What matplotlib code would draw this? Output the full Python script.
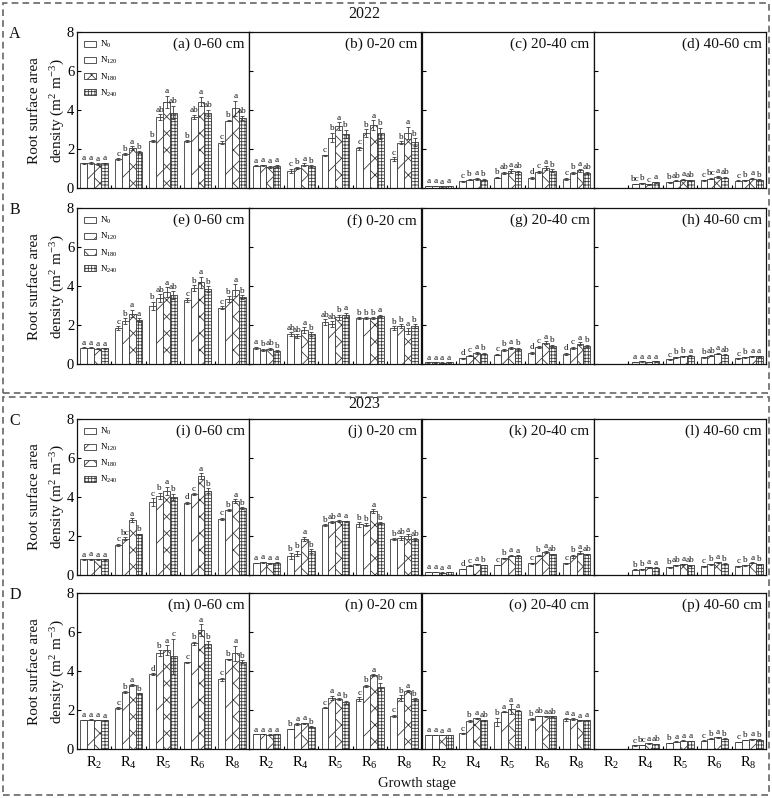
import matplotlib
matplotlib.use("Agg")
import matplotlib.pyplot as plt
from matplotlib.patches import Rectangle, Patch

plt.rcParams["font.family"] = ["Liberation Serif", "DejaVu Serif"]
plt.rcParams["mathtext.fontset"] = "custom"
plt.rcParams["mathtext.rm"] = "Liberation Serif"
plt.rcParams["mathtext.it"] = "Liberation Serif:italic"
plt.rcParams["hatch.linewidth"] = 0.6

STAGES = ["R$_2$", "R$_4$", "R$_5$", "R$_6$", "R$_8$"]
TREATMENTS = ["N$_0$", "N$_{120}$", "N$_{180}$", "N$_{240}$"]
DEPTHS = ["0-60 cm", "0-20 cm", "20-40 cm", "40-60 cm"]
PANEL_LETTERS = "abcdefghijklmnop"
ROW_LETTERS = ["A", "B", "C", "D"]
YEARS = ["2022", "2023"]

# values per panel: rows = growth stage (R2..R8), cols = N0, N120, N180, N240
val_a = [[1.28, 1.30, 1.25, 1.28], [1.49, 1.76, 2.05, 1.85], [2.44, 3.64, 4.44, 3.88],
         [2.42, 3.67, 4.45, 3.88], [2.34, 3.47, 4.10, 3.62]]
err_a = [[0.03, 0.03, 0.05, 0.04], [0.05, 0.05, 0.10, 0.05], [0.06, 0.15, 0.30, 0.35],
         [0.05, 0.10, 0.25, 0.15], [0.08, 0.04, 0.40, 0.10]]
sig_a = [["a", "a", "a", "a"], ["c", "b", "a", "b"], ["b", "ab", "a", "ab"],
         ["b", "ab", "a", "ab"], ["c", "b", "a", "ab"]]

val_b = [[1.15, 1.17, 1.10, 1.15], [0.90, 1.06, 1.20, 1.13], [1.69, 2.60, 3.18, 2.80],
         [2.05, 2.82, 3.25, 2.82], [1.50, 2.34, 2.85, 2.37]]
err_b = [[0.02, 0.03, 0.06, 0.05], [0.10, 0.05, 0.08, 0.04], [0.03, 0.25, 0.20, 0.20],
         [0.08, 0.20, 0.25, 0.28], [0.08, 0.08, 0.30, 0.20]]
sig_b = [["a", "a", "a", "a"], ["c", "b", "a", "b"], ["c", "b", "a", "b"],
         ["c", "b", "a", "b"], ["c", "b", "a", "b"]]

val_c = [[0.12, 0.12, 0.10, 0.12], [0.35, 0.45, 0.50, 0.45], [0.55, 0.80, 0.88, 0.82],
         [0.55, 0.85, 1.03, 0.90], [0.50, 0.80, 0.92, 0.80]]
err_c = [[0.02, 0.02, 0.02, 0.02], [0.03, 0.04, 0.05, 0.04], [0.04, 0.06, 0.10, 0.08],
         [0.05, 0.05, 0.10, 0.08], [0.05, 0.06, 0.08, 0.06]]
sig_c = [["a", "a", "a", "a"], ["c", "b", "a", "b"], ["b", "ab", "a", "ab"],
         ["d", "c", "a", "b"], ["c", "b", "a", "ab"]]

val_d = [None, [0.22, 0.25, 0.20, 0.30], [0.30, 0.38, 0.45, 0.42],
         [0.40, 0.50, 0.60, 0.55], [0.38, 0.42, 0.50, 0.45]]
err_d = [None, [0.02, 0.03, 0.02, 0.03], [0.03, 0.03, 0.04, 0.03],
         [0.03, 0.04, 0.05, 0.04], [0.03, 0.03, 0.04, 0.03]]
sig_d = [None, ["bc", "b", "c", "a"], ["b", "ab", "a", "ab"],
         ["c", "bc", "a", "ab"], ["c", "b", "a", "b"]]

val_e = [[0.85, 0.85, 0.80, 0.82], [1.85, 2.20, 2.60, 2.25], [3.00, 3.40, 3.70, 3.55],
         [3.30, 3.90, 4.20, 3.85], [2.90, 3.35, 3.80, 3.45]]
err_e = [[0.02, 0.02, 0.03, 0.02], [0.10, 0.15, 0.20, 0.10], [0.20, 0.20, 0.25, 0.20],
         [0.10, 0.15, 0.30, 0.15], [0.08, 0.15, 0.30, 0.10]]
sig_e = [["a", "a", "a", "a"], ["c", "b", "a", "a"], ["b", "ab", "a", "ab"],
         ["c", "b", "a", "b"], ["c", "b", "a", "b"]]

val_f = [[0.85, 0.75, 0.80, 0.68], [1.55, 1.45, 1.75, 1.55], [2.15, 2.05, 2.40, 2.55],
         [2.35, 2.35, 2.35, 2.50], [1.85, 1.95, 1.70, 1.95]]
err_f = [[0.05, 0.05, 0.05, 0.05], [0.10, 0.10, 0.15, 0.10], [0.15, 0.15, 0.15, 0.10],
         [0.05, 0.05, 0.05, 0.05], [0.10, 0.10, 0.15, 0.10]]
sig_f = [["a", "b", "ab", "b"], ["ab", "ab", "a", "b"], ["ab", "ab", "b", "a"],
         ["b", "b", "b", "a"], ["b", "b", "a", "b"]]

val_g = [[0.10, 0.10, 0.08, 0.10], [0.30, 0.45, 0.60, 0.55], [0.50, 0.75, 0.85, 0.80],
         [0.60, 0.90, 1.10, 0.95], [0.55, 0.85, 1.05, 0.95]]
err_g = [[0.02, 0.02, 0.02, 0.02], [0.03, 0.04, 0.05, 0.04], [0.04, 0.05, 0.06, 0.05],
         [0.05, 0.05, 0.08, 0.06], [0.05, 0.05, 0.08, 0.06]]
sig_g = [["a", "a", "a", "a"], ["d", "c", "a", "b"], ["c", "b", "a", "b"],
         ["d", "c", "a", "b"], ["d", "c", "a", "b"]]

val_h = [None, [0.12, 0.15, 0.12, 0.15], [0.25, 0.35, 0.40, 0.45],
         [0.35, 0.45, 0.55, 0.50], [0.30, 0.35, 0.40, 0.42]]
err_h = [None, [0.02, 0.02, 0.02, 0.02], [0.02, 0.03, 0.03, 0.03],
         [0.03, 0.03, 0.04, 0.03], [0.02, 0.03, 0.03, 0.03]]
sig_h = [None, ["a", "a", "a", "a"], ["c", "b", "b", "a"],
         ["b", "ab", "a", "ab"], ["c", "b", "a", "a"]]

val_i = [[0.80, 0.81, 0.80, 0.80], [1.54, 1.85, 2.82, 2.09], [3.73, 4.07, 4.32, 4.02],
         [3.71, 4.14, 5.08, 4.32], [2.87, 3.33, 3.79, 3.45]]
err_i = [[0.02, 0.02, 0.02, 0.02], [0.06, 0.08, 0.08, 0.03], [0.20, 0.15, 0.20, 0.15],
         [0.05, 0.05, 0.15, 0.12], [0.06, 0.04, 0.10, 0.04]]
sig_i = [["a", "a", "a", "a"], ["c", "bc", "a", "b"], ["c", "b", "a", "b"],
         ["d", "c", "a", "b"], ["c", "b", "a", "b"]]

val_j = [[0.62, 0.65, 0.60, 0.62], [0.97, 1.10, 1.85, 1.23], [2.55, 2.72, 2.78, 2.75],
         [2.60, 2.58, 3.28, 2.65], [1.85, 1.90, 1.98, 1.85]]
err_j = [[0.02, 0.03, 0.02, 0.03], [0.15, 0.15, 0.12, 0.08], [0.05, 0.03, 0.05, 0.03],
         [0.12, 0.08, 0.08, 0.05], [0.05, 0.10, 0.12, 0.05]]
sig_j = [["a", "a", "a", "a"], ["b", "b", "a", "b"], ["b", "ab", "a", "a"],
         ["b", "b", "a", "b"], ["b", "ab", "a", "ab"]]

val_k = [[0.15, 0.15, 0.12, 0.15], [0.31, 0.48, 0.55, 0.51], [0.51, 0.85, 0.99, 0.99],
         [0.60, 0.99, 1.19, 1.06], [0.60, 0.97, 1.15, 1.06]]
err_k = [[0.01, 0.01, 0.01, 0.01], [0.02, 0.02, 0.03, 0.02], [0.02, 0.03, 0.04, 0.03],
         [0.02, 0.04, 0.06, 0.03], [0.02, 0.08, 0.06, 0.03]]
sig_k = [["a", "a", "a", "a"], ["d", "c", "a", "b"], ["c", "b", "a", "a"],
         ["c", "b", "a", "ab"], ["c", "b", "a", "ab"]]

val_l = [None, [0.28, 0.30, 0.40, 0.38], [0.40, 0.50, 0.55, 0.50],
         [0.45, 0.55, 0.65, 0.58], [0.45, 0.50, 0.62, 0.55]]
err_l = [None, [0.02, 0.02, 0.03, 0.03], [0.03, 0.02, 0.03, 0.02],
         [0.02, 0.02, 0.04, 0.03], [0.02, 0.02, 0.03, 0.02]]
sig_l = [None, ["b", "b", "a", "a"], ["b", "ab", "a", "ab"],
         ["c", "b", "a", "b"], ["c", "b", "a", "b"]]

val_m = [[1.50, 1.52, 1.50, 1.48], [2.10, 2.92, 3.30, 2.87], [3.85, 4.92, 5.09, 4.78],
         [4.46, 5.44, 6.12, 5.38], [3.59, 4.62, 4.92, 4.49]]
err_m = [[0.02, 0.02, 0.02, 0.02], [0.05, 0.05, 0.05, 0.02], [0.06, 0.15, 0.25, 0.90],
         [0.04, 0.08, 0.30, 0.15], [0.08, 0.02, 0.40, 0.08]]
sig_m = [["a", "a", "a", "a"], ["c", "b", "a", "b"], ["d", "b", "a", "c"],
         ["c", "b", "a", "b"], ["c", "b", "a", "b"]]

val_n = [[0.77, 0.77, 0.75, 0.77], [1.04, 1.28, 1.33, 1.16], [2.13, 2.65, 2.58, 2.41],
         [2.58, 3.26, 3.81, 3.21], [1.72, 2.61, 2.99, 2.58]]
err_n = [[0.01, 0.01, 0.01, 0.01], [0.02, 0.05, 0.04, 0.03], [0.03, 0.10, 0.05, 0.08],
         [0.10, 0.05, 0.05, 0.20], [0.05, 0.15, 0.05, 0.05]]
sig_n = [["a", "a", "a", "a"], ["b", "a", "a", "b"], ["c", "a", "a", "b"],
         ["c", "b", "a", "b"], ["c", "b", "a", "b"]]

val_o = [[0.73, 0.73, 0.72, 0.73], [0.82, 1.45, 1.59, 1.49], [1.42, 1.93, 2.07, 1.98],
         [1.55, 1.71, 1.69, 1.69], [1.55, 1.55, 1.48, 1.50]]
err_o = [[0.02, 0.01, 0.01, 0.01], [0.02, 0.06, 0.03, 0.02], [0.20, 0.02, 0.25, 0.02],
         [0.04, 0.02, 0.02, 0.02], [0.08, 0.04, 0.02, 0.02]]
sig_o = [["a", "a", "a", "a"], ["c", "b", "a", "ab"], ["b", "a", "a", "a"],
         ["b", "ab", "a", "ab"], ["a", "a", "a", "a"]]

val_p = [None, [0.20, 0.22, 0.30, 0.28], [0.32, 0.40, 0.45, 0.43],
         [0.45, 0.55, 0.62, 0.55], [0.38, 0.48, 0.52, 0.50]]
err_p = [None, [0.01, 0.01, 0.02, 0.01], [0.02, 0.02, 0.02, 0.02],
         [0.02, 0.02, 0.03, 0.02], [0.02, 0.02, 0.02, 0.02]]
sig_p = [None, ["c", "bc", "a", "ab"], ["b", "a", "a", "a"],
         ["c", "b", "a", "b"], ["c", "b", "a", "b"]]

PANELS = [
    [(val_a, err_a, sig_a), (val_b, err_b, sig_b), (val_c, err_c, sig_c), (val_d, err_d, sig_d)],
    [(val_e, err_e, sig_e), (val_f, err_f, sig_f), (val_g, err_g, sig_g), (val_h, err_h, sig_h)],
    [(val_i, err_i, sig_i), (val_j, err_j, sig_j), (val_k, err_k, sig_k), (val_l, err_l, sig_l)],
    [(val_m, err_m, sig_m), (val_n, err_n, sig_n), (val_o, err_o, sig_o), (val_p, err_p, sig_p)],
]

# styling
INK = "#111111"
EDGE = "#3a3a3a"
DASH = "#666666"
HATCHES = ["", "/", "xx", "+++++"]
BAR_W = 0.2

W, H = 772, 798
COL_LEFT = [77, 249.25, 421.5, 593.75]
COL_W = 172.25
ROW_BOTTOM = [188.3, 364.3, 575.0, 749.3]   # px from top
ROW_H = 156.0


def _axes(fig, r, c):
    return fig.add_axes([COL_LEFT[c] / W, 1 - ROW_BOTTOM[r] / H, COL_W / W, ROW_H / H])


def _draw(ax, vals, errs, sigs):
    for i, (v, e, s) in enumerate(zip(vals, errs, sigs)):
        if v is None:
            continue
        for j in range(4):
            x = i + (j - 1.5) * BAR_W
            ax.bar(x, v[j], width=BAR_W, color="white", edgecolor=EDGE,
                   hatch=HATCHES[j], linewidth=0.6, zorder=2)
            ax.errorbar(x, v[j], yerr=e[j], fmt="none", ecolor=EDGE,
                        elinewidth=0.6, capsize=1.4, capthick=0.6, zorder=3)
            ax.annotate(s[j], (x, v[j] + e[j]), xytext=(0, 0.3),
                        textcoords="offset points", ha="center", va="bottom",
                        fontsize=6.6, color=INK)


fig = plt.figure(figsize=(W / 100, H / 100), dpi=100)

for r in range(4):
    for c in range(4):
        ax = _axes(fig, r, c)
        vals, errs, sigs = PANELS[r][c]
        _draw(ax, vals, errs, sigs)
        ax.set_xlim(-0.5, 4.5)
        ax.set_ylim(0, 8)
        ax.set_yticks([0, 2, 4, 6, 8])
        ax.set_xticks(range(5))
        ax.set_xticks([0.5, 1.5, 2.5, 3.5], minor=True)
        ax.tick_params(axis="y", direction="in", length=3, width=0.8,
                       labelsize=10.5, pad=2, labelleft=(c == 0))
        ax.tick_params(axis="x", which="major", length=0, labelsize=10.5, pad=4,
                       labelbottom=(r == 3))
        ax.tick_params(axis="x", which="minor", direction="in", length=2.5, width=0.8)
        if r == 3:
            ax.set_xticklabels(STAGES)
        for sp in ax.spines.values():
            sp.set_linewidth(0.9)
            sp.set_color(INK)
        letter = PANEL_LETTERS[r * 4 + c]
        ax.text(0.975, 0.965, f"({letter}) {DEPTHS[c]}", transform=ax.transAxes,
                ha="right", va="top", fontsize=11, color=INK)
        if c == 0:
            if r < 3:
                handles = [Patch(facecolor="white", edgecolor=EDGE, hatch=h, linewidth=0.6)
                           for h in HATCHES]
                ax.legend(handles, TREATMENTS, loc="upper left", frameon=False,
                          fontsize=6.5, handlelength=1.35, handleheight=0.65,
                          labelspacing=0.55, handletextpad=0.5, borderaxespad=0.35)
            yc = 1 - (ROW_BOTTOM[r] - ROW_H / 2) / H
            fig.text(35 / W, yc, "Root surface area", rotation=90, ha="center",
                     va="center", fontsize=11, color=INK)
            fig.text(58 / W, yc, "density (m$^2$ m$^{-3}$)", rotation=90,
                     ha="center", va="center", fontsize=11, color=INK)
            fig.text(15 / W, 1 - (ROW_BOTTOM[r] - ROW_H + 2) / H, ROW_LETTERS[r],
                     ha="center", va="center", fontsize=11.5, color=INK)

# year boxes and titles
for top, bottom, year, ty in [(3, 393, YEARS[0], 14), (397, 795, YEARS[1], 404)]:
    fig.patches.append(Rectangle((3 / W, 1 - bottom / H), (769 - 3) / W, (bottom - top) / H,
                                 transform=fig.transFigure, fill=False,
                                 edgecolor=DASH, linewidth=1.2, linestyle=(0, (4, 2.5))))
    fig.text(364 / W, 1 - ty / H, year, ha="center", va="center", fontsize=11.5, color=INK)

fig.text(417 / W, 1 - 783 / H, "Growth stage", ha="center", va="center",
         fontsize=10.5, color=INK)

fig.savefig("out.png", dpi=100, facecolor="white")
